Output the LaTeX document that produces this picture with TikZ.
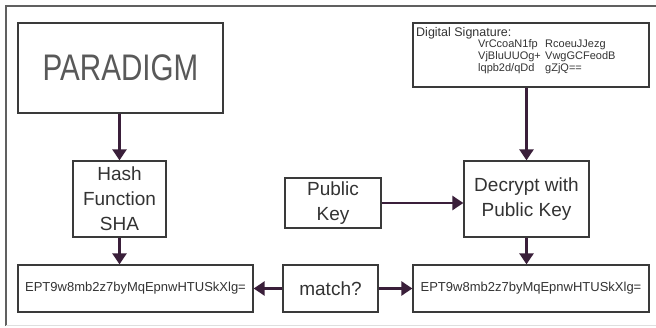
\documentclass[tikz,border=0pt]{standalone}
\usepackage{fontspec}
\usepackage{graphicx}
\setmainfont{Liberation Sans}
\usetikzlibrary{arrows.meta}
\definecolor{arrc}{HTML}{3A1F3A}
\definecolor{boxc}{HTML}{3A3A3A}
\definecolor{txtc}{HTML}{333333}
\begin{document}
\begin{tikzpicture}[x=1pt,y=-1pt,
  box/.style={draw=boxc,line width=1.3pt,inner sep=0pt,text=txtc,align=center,
    font=\fontsize{19}{25}\selectfont},
  hashtxt/.style={font=\fontsize{13}{15}\selectfont},
  sigtxt/.style={font=\fontsize{11}{12}\selectfont,text=txtc,inner sep=0pt,anchor=west},
  arr/.style={draw=arrc,line width=2.6pt,-{Triangle[width=14pt,length=11pt]}}]
\useasboundingbox (0,0) rectangle (656,328);
\fill[white] (0,0) rectangle (656,328);
% outer frame
\draw[gray!75!black,line width=1.2pt] (6,326) -- (6,6) -- (660,6);
\draw[gray!25,line width=1pt] (6,326) -- (660,326);
% boxes
\node[box,minimum width=205pt,minimum height=90pt] (paradigm) at (120.5,68)
  {\color{gray!70!black}\fontsize{37}{40}\selectfont\scalebox{0.8}[1]{PARADIGM}};
\node[box,minimum width=93pt,minimum height=76pt] (hash) at (119.5,199)
  {Hash\\Function\\SHA};
\node[box,hashtxt,minimum width=235pt,minimum height=47pt] (eptL) at (135.5,288.5)
  {EPT9w8mb2z7byMqEpnwHTUSkXlg=};
\node[box,minimum width=95pt,minimum height=47pt] (match) at (330.5,288.5) {match?};
\node[box,hashtxt,minimum width=236pt,minimum height=47pt] (eptR) at (531,288.5)
  {EPT9w8mb2z7byMqEpnwHTUSkXlg=};
\node[box,minimum width=125pt,minimum height=76pt] (decrypt) at (526.5,199)
  {Decrypt with\\Public Key};
\node[box,minimum width=96pt,minimum height=50pt] (pubkey) at (333,203)
  {Public\\Key};
\node[box,minimum width=236pt,minimum height=64pt] (ds) at (531,55) {};
% signature text
\node[sigtxt,font=\fontsize{12.5}{14}\selectfont] (dst) at (416,33) {Digital Signature:};
\node[sigtxt] (s1a) at (478,45) {VrCcoaN1fp};
\node[sigtxt] (s1b) at (545,45) {RcoeuJJezg};
\node[sigtxt] (s2a) at (478,57) {VjBluUUOg+};
\node[sigtxt] (s2b) at (545,57) {VwgGCFeodB};
\node[sigtxt] (s3a) at (478,69) {lqpb2d/qDd};
\node[sigtxt] (s3b) at (545,69) {gZjQ==};
% arrows
\draw[arr] (paradigm.south -| hash.north) -- (hash.north);
\draw[arr] (hash.south) -- (hash.south |- eptL.north);
\draw[arr] (ds.south -| decrypt.north) -- (decrypt.north);
\draw[arr] (decrypt.south) -- (decrypt.south |- eptR.north);
\draw[arr] (pubkey.east) -- (pubkey.east -| decrypt.west);
\draw[arr] (match.west) -- (eptL.east);
\draw[arr] (match.east) -- (eptR.west);
\end{tikzpicture}
\end{document}
